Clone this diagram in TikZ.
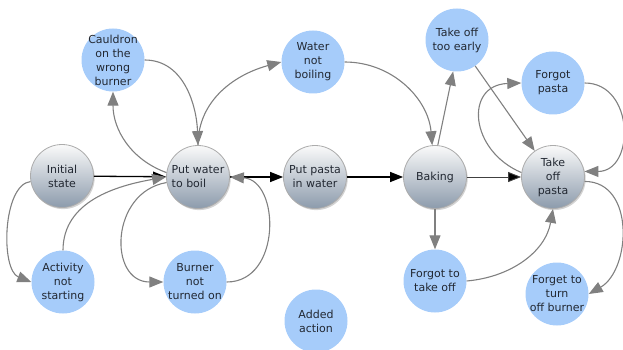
\documentclass[tikz,border=0pt]{standalone}
\usepackage{fontspec}
\setmainfont{DejaVu Sans}
\usetikzlibrary{shadows,arrows.meta}
\definecolor{issuefill}{RGB}{166,204,250}
\definecolor{edgegray}{RGB}{128,128,128}
\definecolor{labeltext}{RGB}{34,40,50}
\definecolor{stagebottom}{RGB}{140,155,172}
\tikzset{
  every label/.style={align=center, font=\fontsize{11}{14}\selectfont, text=labeltext, inner sep=0pt},
  stage/.style={circle, minimum size=63pt, inner sep=0pt, draw=gray!65, line width=0.8pt,
    top color=gray!4, bottom color=stagebottom,
    drop shadow={opacity=0.35, shadow xshift=1.2pt, shadow yshift=-1.6pt}},
  issue/.style={circle, minimum size=63pt, inner sep=0pt, fill=issuefill},
  flow/.style={draw=edgegray, line width=1.1pt, -{Triangle[length=14pt,width=11pt]}},
  mainflow/.style={draw=black, line width=1.3pt, -{Triangle[length=13pt,width=10pt]}},
  thinflow/.style={draw=black!75, line width=0.9pt, -{Triangle[length=13pt,width=10pt,fill=black]}}
}
\begin{document}
\begin{tikzpicture}[x=1pt,y=1pt]
\useasboundingbox (0,0) rectangle (623,-350);

% main sequence
\node[stage, label=center:{Initial\\state}] (init) at (62,-176) {};
\node[stage, label={[align=left]center:{Put water\\to boil}}] (pw) at (198,-177) {};
\node[stage, label=center:{Put pasta\\in water}] (pasta) at (315,-177) {};
\node[stage, label=center:{Baking}] (baking) at (435,-177) {};
\node[stage, label=center:{Take\\off\\pasta}] (top) at (553,-177) {};

% deviations
\node[issue, label=center:{Cauldron\\on the\\wrong\\burner}] (cauldron) at (113,-60) {};
\node[issue, label=center:{Water\\not\\boiling}] (wnb) at (313,-62) {};
\node[issue, label=center:{Take off\\too early}] (early) at (457,-40) {};
\node[issue, label=center:{Forgot\\pasta}] (fp) at (553,-83) {};
\node[issue, label=center:{Activity\\not\\starting}] (act) at (63,-282) {};
\node[issue, label=center:{Burner\\not\\turned on}] (burner) at (195,-282) {};
\node[issue, label=center:{Added\\action}] (added) at (316,-321) {};
\node[issue, label=center:{Forgot to\\take off}] (ftt) at (435,-281) {};
\node[issue, label=center:{Forget to\\turn\\off burner}] (forget) at (557,-294) {};

% main flow
\draw[mainflow] (init) -- (pw);
\draw[mainflow] (pw) -- (pasta);
\draw[mainflow] (pasta) -- (baking);
\draw[thinflow] (baking) -- (top);

% side flows
\draw[flow] (init.190) .. controls +(-28,-3) and +(-31,12) .. (act.west);
\draw[flow] (act.north) to[out=90,in=190] (pw.west);
\draw[flow] (pw.172) to[out=160,in=-90] (cauldron.south);
\draw[flow] (cauldron.east) to[out=0,in=92] (pw.north);
\draw[flow] (pw.north) to[out=90,in=195] (wnb.west);
\draw[flow] (pw.190) .. controls (110,-192) and (108,-282) .. (burner.west);
\draw[flow] (burner.east) .. controls (282,-282) and (280,-180) .. (pw.east);
\draw[flow] (wnb.east) to[out=0,in=95] (baking.95);
\draw[flow] (baking.85) -- (early.-97);
\draw[flow] (early.-55) -- (top.125);
\draw[flow] (top.172) .. controls +(-52,22) and +(-57,-2) .. (fp.west);
\draw[flow] (fp.east) .. controls +(50,0) and +(51,0) .. (top.10);
\draw[flow] (top.-8) .. controls +(51,0) and +(42,24) .. (forget.east);
\draw[flow] (baking.south) -- (ftt.north);
\draw[flow] (ftt.east) to[out=5,in=-100] (top.south);
\end{tikzpicture}
\end{document}
